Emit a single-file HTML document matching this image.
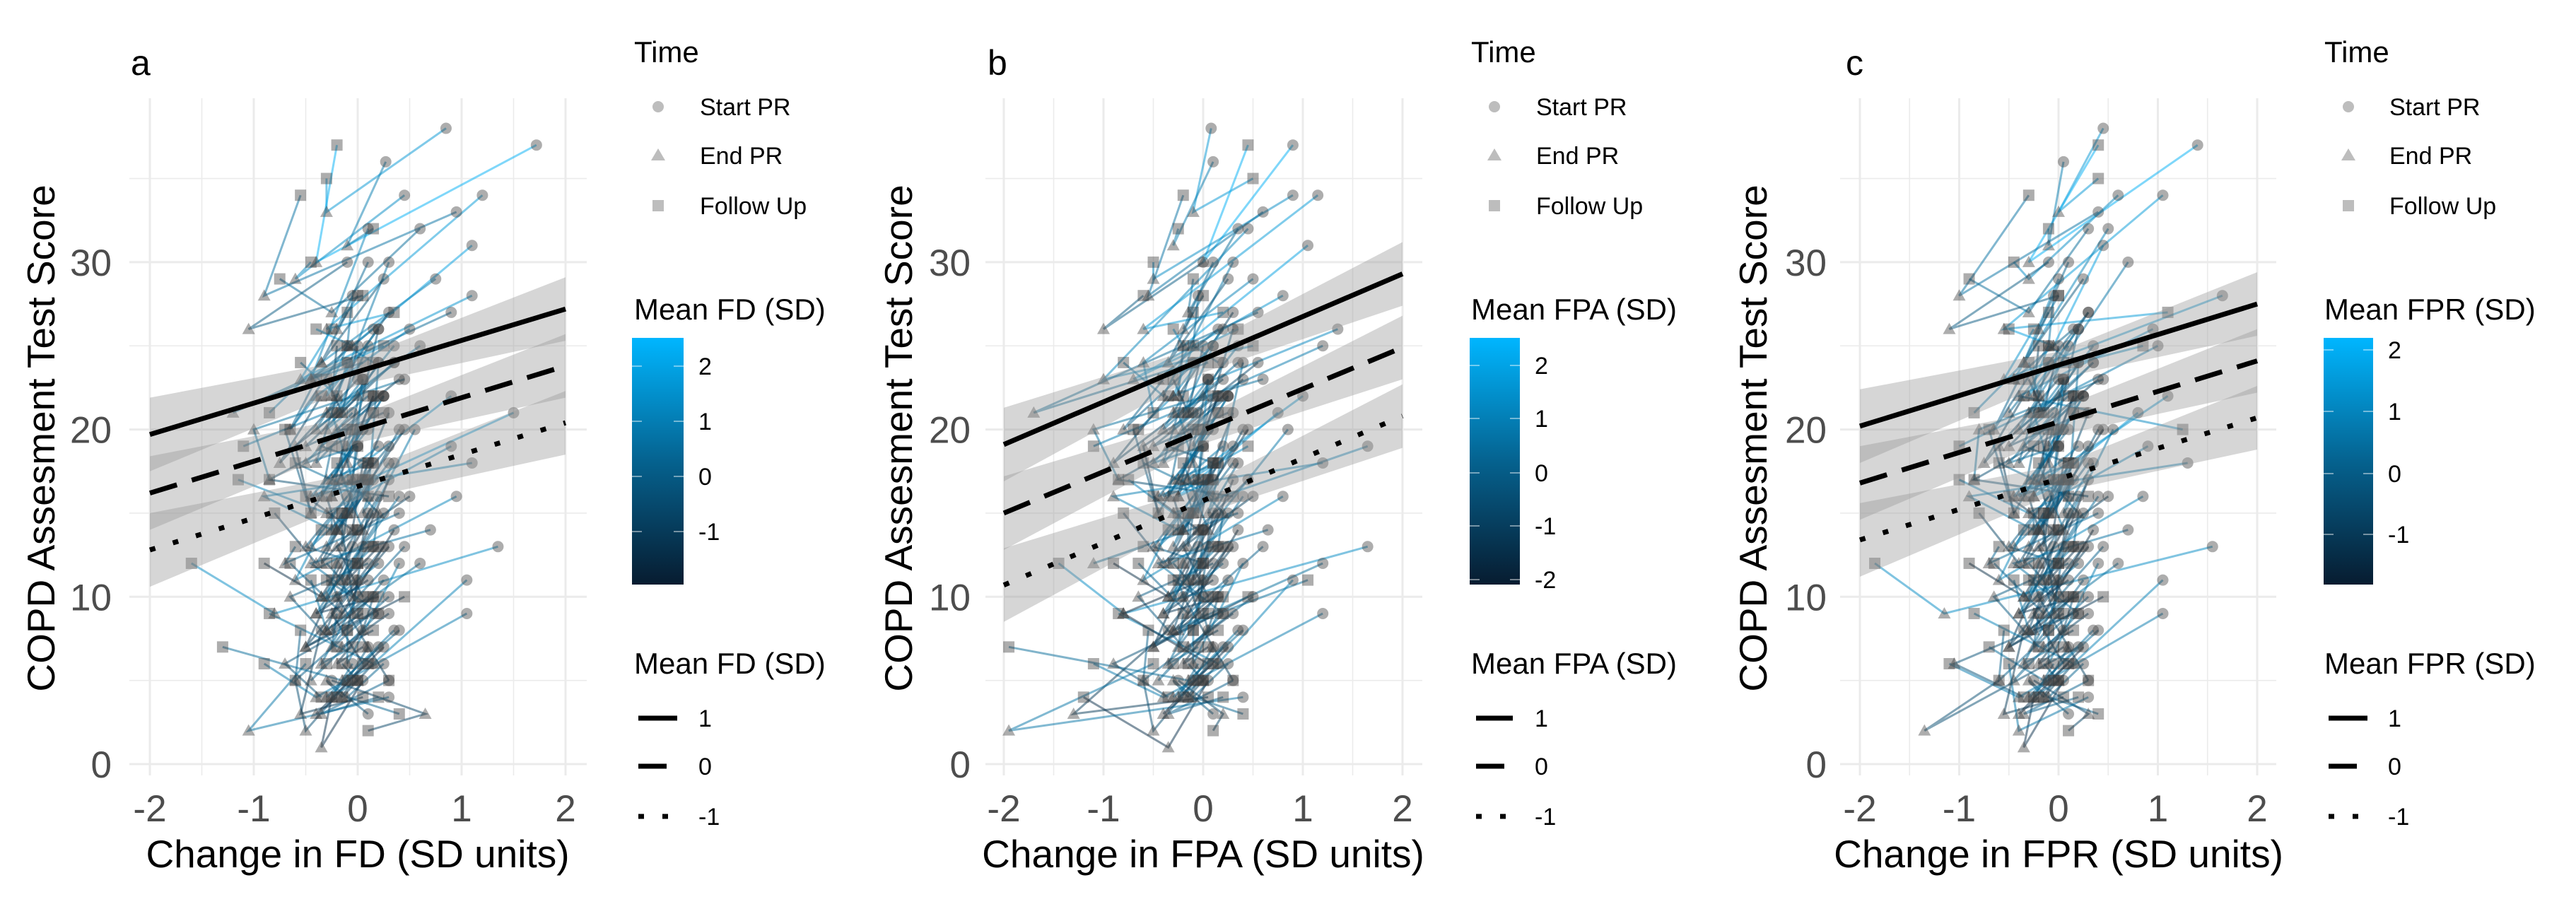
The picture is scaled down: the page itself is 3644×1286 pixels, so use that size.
<!DOCTYPE html>
<html><head><meta charset="utf-8"><title>COPD CAT vs change panels</title>
<style>
html,body{margin:0;padding:0;background:#fff;}
svg{display:block;font-family:"Liberation Sans",Arial,sans-serif;}
</style></head>
<body>
<svg id="chart" xmlns="http://www.w3.org/2000/svg" width="3644" height="1286" viewBox="0 0 3644 1286"></svg>
<script>
// ---- shared CAT scores per subject (start, end, follow-up) ----
const catStart = [38,37,36,34,34,33,32,32,31,30,30,29,28,27,26,26,25,25,24,24,23,23,22,22,21,21,20,20,19,19,18,18,17,17,16,16,15,15,14,14,13,13,13,12,12,11,11,10,10,9,9,8,8,7,6,5,5,4,3,13,
  30,29,28,27,26,25,25,24,24,23,23,22,22,21,21,20,20,19,19,18,18,17,17,16,16,16,15,15,14,14,13,13,13,12,12,12,11,11,10,10,9,9,8,8,7,7,6,6,5,5,26,25,24,23,22,21,20,19,18,17];
const catEnd = [33,30,31,29,26,28,27,23,25,26,22,24,23,21,22,18,20,21,19,16,18,20,17,15,16,19,14,17,15,13,14,16,12,15,11,13,12,10,10,12,9,11,7,8,10,6,9,5,7,4,6,5,3,2,4,1,3,2,5,9,
  26,24,25,22,23,21,20,22,18,20,17,19,16,18,15,17,14,16,13,15,12,14,11,13,12,10,12,9,11,8,10,9,7,10,8,6,9,7,8,6,7,5,6,4,5,3,4,5,3,4,22,21,20,19,17,16,15,16,14,13];
const catFollow = [35,37,32,30,27,34,29,25,26,28,24,21,26,24,20,22,23,19,21,18,22,17,19,20,17,15,18,16,17,12,16,14,15,13,14,10,13,12,11,9,12,8,10,11,7,9,6,8,5,6,4,7,4,5,3,4,2,6,4,12,
  28,27,24,25,24,23,22,21,22,20,21,18,20,19,17,18,16,17,15,16,14,15,13,15,14,12,13,11,12,10,12,11,9,11,10,8,10,9,9,7,8,6,7,5,6,4,5,6,4,5,25,23,22,21,20,19,18,17,17,15];
const meanSD = [1.5,2.2,0.8,1.2,1.6,0.5,0.3,1.0,1.8,-0.2,0.6,0.9,1.4,0.2,1.1,-0.4,0.0,0.7,-0.6,0.3,-0.8,0.4,1.3,-0.3,1.5,-1.0,0.6,-0.5,0.9,-0.1,-1.2,0.8,-0.7,0.1,1.0,-0.9,0.2,-1.4,-0.3,0.5,1.2,-0.6,-1.1,0.4,-0.2,0.9,-1.5,0.0,-0.8,0.7,-0.4,0.3,-1.0,-0.5,0.1,-1.3,-0.7,0.6,-0.2,0.0,
  0.2,-0.3,0.5,-0.8,0.1,-1.1,0.4,-0.5,0.0,-0.9,0.6,-0.2,-1.3,0.3,-0.6,0.1,-1.0,0.7,-0.4,0.2,-0.7,0.0,-1.2,0.5,-0.3,0.3,-0.8,0.1,-0.5,-1.4,0.4,-0.1,-0.9,0.2,-0.6,0.8,-1.1,0.0,-0.4,0.3,-0.7,0.1,-1.0,0.5,-0.2,-1.3,0.2,-0.5,0.0,-0.8,1.0,0.6,0.3,-0.2,0.8,0.1,-0.4,0.5,-0.1,0.2];

// ---- dense central subjects (change values near zero), shared across panels ----
const centerStart = [0.1,0.25,-0.05,0.3,0.15,0.0,0.35,0.2,-0.1,0.4,0.05,0.25,0.15,-0.05,0.3,0.1,0.45,0.2,0.0,0.35,0.15,0.05,0.3,-0.1,0.2,0.4,0.1,0.25,0.0,0.35,0.15,0.05,0.3,0.2,-0.05,0.4,0.1,0.25,0.15,0.0,0.3,0.2,0.05,0.35,0.1,0.25,-0.05,0.15,0.3,0.0,0.2,0.1,0.35,0.05,0.25,0.15,0.4,0.0,0.3,0.1];
const centerEnd = [-0.2,-0.35,-0.1,-0.25,-0.45,-0.15,-0.3,0.0,-0.4,-0.2,-0.05,-0.35,-0.25,-0.5,-0.1,-0.3,-0.2,-0.4,-0.15,0.05,-0.35,-0.25,-0.1,-0.45,-0.2,-0.3,0.0,-0.4,-0.15,-0.25,-0.35,-0.05,-0.5,-0.2,-0.3,-0.1,-0.4,-0.25,0.05,-0.35,-0.15,-0.45,-0.2,-0.3,-0.1,-0.4,-0.25,0.0,-0.35,-0.15,-0.3,-0.2,-0.4,-0.1,-0.25,-0.35,-0.05,-0.45,-0.2,-0.3];
const centerFollow = [0.0,-0.1,0.15,-0.2,0.05,-0.3,0.1,-0.15,0.2,-0.05,-0.25,0.1,-0.1,0.0,-0.2,0.15,-0.3,0.05,-0.15,0.1,-0.05,-0.25,0.2,-0.1,0.0,-0.2,0.1,-0.05,-0.3,0.15,0.0,-0.15,0.05,-0.25,0.1,-0.1,0.2,-0.2,0.0,-0.05,0.15,-0.3,0.05,-0.1,0.1,-0.2,0.0,-0.15,0.2,-0.05,-0.1,0.05,-0.2,0.15,0.0,-0.25,0.1,-0.05,0.0,-0.15];

// ---- panel a (FD) change values ----
const xStartA = [0.85,1.72,0.27,0.45,1.2,0.95,0.6,0.1,1.1,-0.1,0.3,0.75,1.1,0.9,0.5,0.2,-0.1,0.6,0.35,0.2,0.0,0.45,0.9,0.25,1.5,-0.2,0.55,0.05,0.9,0.3,0.05,1.1,0.15,-0.1,0.95,0.5,0.4,0.15,-0.15,0.7,1.35,0.25,-0.05,0.6,0.1,1.05,0.0,0.3,-0.2,1.05,0.15,0.4,-0.35,0.2,0.25,0.05,-0.25,0.3,0.1,0.45].concat(centerStart);
const xEndA = [-0.3,-0.4,-0.1,-0.6,-0.3,-0.9,-0.25,-0.45,-0.05,-1.05,-0.2,-0.35,-0.55,-1.2,-0.4,-0.1,-0.65,-0.3,-0.5,0.1,-0.75,-1.0,-0.15,-0.45,-0.25,-0.6,0.05,-0.85,-0.3,-0.5,-0.05,-0.9,-0.4,0.2,-0.6,-0.2,-0.7,-0.35,-0.05,-0.45,-0.8,0.0,-0.5,-0.3,-0.65,0.15,-0.25,-0.6,0.1,-0.4,-0.7,-0.15,-0.55,-0.5,-0.1,-0.35,0.65,-1.05,-0.3,-0.15].concat(centerEnd);
const xFollowA = [-0.3,-0.2,0.15,-0.45,0.35,-0.55,-0.75,0.25,-0.4,0.05,-0.55,-0.85,-0.25,-0.1,-0.65,0.15,-0.4,-1.1,0.25,-0.6,-0.35,-0.85,-0.15,-0.7,0.1,-0.45,-0.2,0.3,-1.15,0.0,-0.5,-0.25,-0.8,0.15,-0.35,0.05,-0.6,-0.9,-0.3,0.2,-1.6,-0.1,0.45,-0.45,-0.2,-0.85,0.05,-0.55,0.3,-0.9,-0.35,-1.3,0.05,-0.6,0.4,-0.25,0.1,-0.5,-0.15,-0.65].concat(centerFollow);
// ---- panel b (FPA) ----
const xStartB = [0.08,0.9,0.1,0.9,1.15,0.6,0.35,0.45,1.05,0.0,0.3,0.5,0.8,0.55,1.35,0.3,0.1,1.2,0.55,0.4,0.2,0.6,1.0,0.25,0.75,-0.1,0.85,0.05,1.65,0.3,0.1,1.2,0.45,-0.1,0.8,0.5,0.35,0.15,0.0,0.65,1.65,0.25,-0.05,1.2,0.1,0.9,0.0,0.5,-0.2,1.2,0.15,0.4,-0.35,0.2,0.25,0.05,-0.25,0.4,0.1,0.6].concat(centerStart);
const xEndB = [-0.1,0.0,-0.3,-0.5,-0.6,-0.55,-0.15,-1.0,-0.2,-1.0,-0.4,-0.6,-0.7,-1.7,-0.3,-0.1,-0.8,-0.3,-0.5,0.1,-0.9,-1.1,-0.15,-0.45,-0.25,-0.6,0.05,-0.85,-0.3,-0.5,-0.05,-0.9,-0.4,0.2,-0.6,-0.2,-1.1,-0.35,-0.05,-0.45,-0.8,0.0,-0.5,-0.3,-0.65,0.15,-0.8,-0.6,0.1,-0.4,-0.9,-0.15,-1.3,-0.5,-0.1,-0.35,0.2,-1.95,-0.3,-0.15].concat(centerEnd);
const xFollowB = [0.5,0.45,-0.25,-0.5,0.2,-0.2,-0.1,0.5,-0.3,-0.6,-0.8,-0.5,0.35,-0.1,-0.65,0.15,-0.4,-1.1,0.25,-0.6,-0.35,-0.85,0.45,-0.7,0.1,-0.45,-0.2,0.3,-0.75,0.0,-0.5,-0.25,-0.8,0.15,-0.35,0.05,-0.6,-0.9,-0.3,0.2,-1.45,-0.1,0.45,1.05,-0.2,-0.85,0.05,-0.55,0.3,-1.1,-0.35,-1.95,0.05,-0.6,0.4,-1.2,0.1,-0.5,-0.15,-0.65].concat(centerFollow);
// ---- panel c (FPR) ----
const xStartC = [0.45,1.4,0.05,0.6,1.05,0.4,0.3,0.5,0.45,-0.1,0.7,0.0,1.65,0.3,0.95,0.2,-0.1,1.0,0.35,0.2,0.0,0.45,1.1,0.25,0.8,-0.2,0.55,0.05,0.9,0.3,0.05,1.3,0.15,-0.1,0.85,0.5,0.4,0.15,-0.15,0.7,1.55,0.25,-0.05,0.6,0.1,1.05,0.0,0.3,-0.2,1.05,0.15,0.4,-0.35,0.2,0.25,0.05,-0.25,0.3,0.1,0.45].concat(centerStart);
const xEndC = [0.0,-0.3,-0.1,-0.3,-0.55,-1.0,-0.3,-0.45,-0.05,-1.1,-0.2,-0.35,-0.55,-0.5,-0.4,-0.1,-0.65,-0.3,-0.5,0.1,-0.75,-0.8,-0.15,-0.45,-0.25,-0.6,0.05,-0.85,-0.3,-0.5,-0.05,-0.9,-0.4,0.2,-0.6,-0.2,-0.7,-0.35,-0.05,-0.45,-1.15,0.0,-0.5,-0.3,-0.65,0.15,-0.25,-0.6,0.1,-0.4,-1.05,-0.15,-0.55,-1.35,-0.1,-0.35,0.3,-0.4,-0.3,-0.15].concat(centerEnd);
const xFollowC = [0.4,0.4,-0.1,-0.45,1.1,-0.3,-0.9,0.85,-0.5,0.0,-0.3,-0.85,-0.25,-0.1,1.25,0.15,-0.4,-1.0,0.25,-0.6,-0.35,-0.85,-0.15,-0.7,0.1,-0.45,-0.2,0.3,-1.0,0.0,-0.5,-0.25,-0.8,0.15,-0.35,0.05,-0.6,-0.9,-0.3,0.2,-1.85,-0.1,0.45,-0.45,-0.2,-0.85,0.05,-0.55,0.3,-1.1,-0.35,-0.7,0.05,-0.6,0.4,-0.25,0.1,-0.5,-0.15,-0.65].concat(centerFollow);

// ---- regression fits: value at x=-2 and x=2, CI half-widths at x=-2,0,2 ----
const fitLevels = ["1","0","-1"];
const fitStartA = [19.7,16.2,12.8]; const fitEndA = [27.2,23.8,20.4];
const fitStartB = [19.1,15.0,10.7]; const fitEndB = [29.3,24.9,20.8];
const fitStartC = [20.2,16.8,13.4]; const fitEndC = [27.5,24.1,20.7];
const ciHalf = [2.2,0.8,1.9];

const xTicks = [-2,-1,0,1,2];
const yTicks = [0,10,20,30];
const cbTicksA = [2,1,0,-1]; const cbTicksB = [2,1,0,-1,-2]; const cbTicksC = [2,1,0,-1];

const NS = "http://www.w3.org/2000/svg";
const svg = document.getElementById("chart");
function mk(tag, attrs, parent){
  const e = document.createElementNS(NS, tag);
  for (const k in attrs) e.setAttribute(k, attrs[k]);
  (parent||svg).appendChild(e);
  return e;
}
function lerpColor(t){
  t = Math.max(0, Math.min(1, t));
  const lo=[8,28,48], hi=[0,182,255];
  return "rgb("+lo.map((v,i)=>Math.round(v+(hi[i]-v)*t)).join(",")+")";
}

const panels = [
  {tag:"a", var:"FD", x0:212, x1:800, left:183, right:830, xs:xStartA, xe:xEndA, xf:xFollowA, fs:fitStartA, fe:fitEndA,
   ytickRight:158, ytitleX:57, tagX:185, leg:{title:897, sym:931, txt:990, cbL:894, cbR:967, cbTop:478, cbBot:827, cbTicks:cbTicksA, cbY:[518,596,674,752], lineL:903, lineR:958}},
  {tag:"b", var:"FPA", x0:1420, x1:1984, left:1394, right:2012, xs:xStartB, xe:xEndB, xf:xFollowB, fs:fitStartB, fe:fitEndB,
   ytickRight:1373, ytitleX:1270, tagX:1397, leg:{title:2081, sym:2114, txt:2173, cbL:2079, cbR:2150, cbTop:478, cbBot:827, cbTicks:cbTicksB, cbY:[517,592,669,744,820], lineL:2088, lineR:2140}},
  {tag:"c", var:"FPR", x0:2631, x1:3193, left:2603, right:3220, xs:xStartC, xe:xEndC, xf:xFollowC, fs:fitStartC, fe:fitEndC,
   ytickRight:2584, ytitleX:2479, tagX:2611, leg:{title:3288, sym:3322, txt:3380, cbL:3287, cbR:3357, cbTop:478, cbBot:827, cbTicks:cbTicksC, cbY:[495,582,670,756], lineL:3294, lineR:3349}}
];
const Y0 = 1081, YPER = 23.67, TOP = 139, BOT = 1097;
const yS = v => Y0 - v*YPER;

panels.forEach((p, pi) => {
  const xS = v => p.x0 + (v+2)*(p.x1-p.x0)/4;
  const g = mk("g", {});
  
  

  for (let v=-2; v<=2.001; v+=0.5){
    const gl = mk("line", {x1:xS(v), x2:xS(v), y1:TOP, y2:BOT, stroke:"#ebebeb", "stroke-width": Number.isInteger(v)?3:1.6}, g);
    
    
  }
  for (let v=0; v<=35; v+=5){
    const gl = mk("line", {x1:p.left, x2:p.right, y1:yS(v), y2:yS(v), stroke:"#ebebeb", "stroke-width": v%10===0?3:1.6}, g);
    
    
  }

  const trajG = mk("g", {}, g);
  
  
  for (let i=0;i<catStart.length;i++){
    const col = lerpColor((meanSD[i]+1.8)/4.2);
    const pl = mk("polyline", {points: xS(p.xs[i])+","+yS(catStart[i])+" "+xS(p.xe[i])+","+yS(catEnd[i])+" "+xS(p.xf[i])+","+yS(catFollow[i]),
      fill:"none", stroke:col, "stroke-width":3, "stroke-opacity":0.5}, trajG);
    
    
  }
  const ptG = mk("g", {fill:"rgb(60,60,60)", "fill-opacity":0.42}, g);
  
  
  for (let i=0;i<catStart.length;i++){
    const c = mk("circle", {cx:xS(p.xs[i]), cy:yS(catStart[i]), r:8}, ptG);
    
    
    const tx = xS(p.xe[i]), ty = yS(catEnd[i]);
    const t = mk("polygon", {points:(tx-9)+","+(ty+7)+" "+(tx+9)+","+(ty+7)+" "+tx+","+(ty-9)}, ptG);
    
    
    const s = mk("rect", {x:xS(p.xf[i])-8, y:yS(catFollow[i])-8, width:16, height:16}, ptG);
    
    
  }

  const dashes = ["none","40 22","8 26"];
  for (let k=0;k<3;k++){
    const a = p.fs[k], b = p.fe[k], m = (a+b)/2;
    const xsR = [-2,0,2], ctr = [a,m,b];
    let up = xsR.map((x,j)=>xS(x)+","+yS(ctr[j]+ciHalf[j])).join(" ");
    let dn = xsR.slice().reverse().map((x,j)=>xS(x)+","+yS(ctr[2-j]-ciHalf[2-j])).join(" ");
    const rb = mk("polygon", {points: up+" "+dn, fill:"#999", "fill-opacity":0.4}, g);
    
    
  }
  for (let k=0;k<3;k++){
    const ln = mk("line", {x1:xS(-2), y1:yS(p.fs[k]), x2:xS(2), y2:yS(p.fe[k]), stroke:"#000", "stroke-width":7,
      "stroke-dasharray":dashes[k]}, g);
    
    
  }

  yTicks.forEach(v=>{
    const t = mk("text", {x:p.ytickRight, y:yS(v)+19, "text-anchor":"end", "font-size":53, fill:"#4d4d4d"}, g);
    t.textContent = v;
    
    
  });
  xTicks.forEach(v=>{
    const t = mk("text", {x:xS(v), y:1162, "text-anchor":"middle", "font-size":53, fill:"#4d4d4d"}, g);
    t.textContent = v;
    
    
  });
  const xt = mk("text", {x:(p.x0+p.x1)/2, y:1227, "text-anchor":"middle", "font-size":55, fill:"#000"}, g);
  xt.textContent = "Change in " + p.var + " (SD units)";
  
  
  const yt = mk("text", {x:0, y:0, "text-anchor":"middle", "font-size":55, fill:"#000", transform:"translate("+(p.ytitleX+20)+",620) rotate(-90)"}, g);
  yt.textContent = "COPD Assesment Test Score";
  
  
  const tg = mk("text", {x:p.tagX, y:106, "font-size":50, fill:"#000"}, g);
  tg.textContent = p.tag;
  
  

  const L = p.leg;
  const lg = mk("g", {}, g);
  
  
  const tt = mk("text", {x:L.title, y:88, "font-size":42, fill:"#000"}, lg);
  tt.textContent = "Time";
  
  
  const labels = ["Start PR","End PR","Follow Up"], ly = [151,220,291];
  labels.forEach((lab,j)=>{
    let sym;
    if (j===0) sym = mk("circle", {cx:L.sym, cy:ly[j], r:8, fill:"#bdbdbd"}, lg);
    else if (j===1) sym = mk("polygon", {points:(L.sym-10)+","+(ly[j]+7)+" "+(L.sym+10)+","+(ly[j]+7)+" "+L.sym+","+(ly[j]-10), fill:"#bdbdbd"}, lg);
    else sym = mk("rect", {x:L.sym-8, y:ly[j]-8, width:16, height:16, fill:"#bdbdbd"}, lg);
    
    
    const t = mk("text", {x:L.txt, y:ly[j]+12, "font-size":34, fill:"#000"}, lg);
    t.textContent = lab;
    
    
  });
  const ct = mk("text", {x:L.title, y:452, "font-size":42, fill:"#000"}, lg);
  ct.textContent = "Mean " + p.var + " (SD)";
  
  
  const gid = "cbg"+pi;
  const defs = mk("defs", {}, lg);
  const grad = mk("linearGradient", {id:gid, x1:0, y1:0, x2:0, y2:1}, defs);
  mk("stop", {offset:"0", "stop-color":"#00b6ff"}, grad);
  mk("stop", {offset:"0.5", "stop-color":"#05628f"}, grad);
  mk("stop", {offset:"1", "stop-color":"#071c30"}, grad);
  const cb = mk("rect", {x:L.cbL, y:L.cbTop, width:L.cbR-L.cbL, height:L.cbBot-L.cbTop, fill:"url(#"+gid+")"}, lg);
  
  
  L.cbTicks.forEach((v,j)=>{
    const y = L.cbY[j];
    mk("line", {x1:L.cbL, x2:L.cbL+14, y1:y, y2:y, stroke:"#fff", "stroke-opacity":0.6, "stroke-width":1.5}, lg);
    mk("line", {x1:L.cbR-14, x2:L.cbR, y1:y, y2:y, stroke:"#fff", "stroke-opacity":0.6, "stroke-width":1.5}, lg);
    const t = mk("text", {x:L.txt-2, y:y+12, "font-size":34, fill:"#000"}, lg);
    t.textContent = v;
    
    
  });
  const lt = mk("text", {x:L.title, y:953, "font-size":42, fill:"#000"}, lg);
  lt.textContent = "Mean " + p.var + " (SD)";
  
  
  const lys = [1016,1084,1155];
  fitLevels.forEach((lab,k)=>{
    const ln = mk("line", {x1:L.lineL, x2:L.lineR, y1:lys[k], y2:lys[k], stroke:"#000", "stroke-width":7, "stroke-dasharray":dashes[k]}, lg);
    
    
    const t = mk("text", {x:L.txt-2, y:lys[k]+12, "font-size":34, fill:"#000"}, lg);
    t.textContent = lab;
    
    
  });
});
</script>
</body></html>
